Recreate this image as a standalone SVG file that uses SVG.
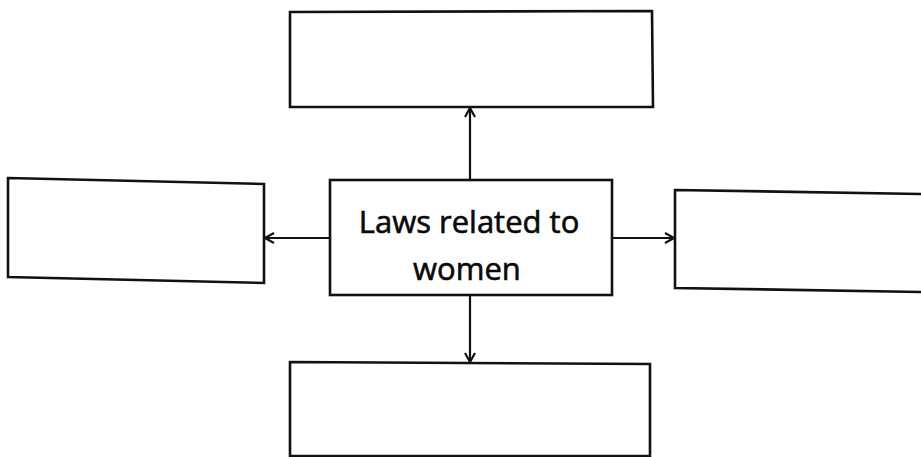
<svg xmlns="http://www.w3.org/2000/svg" width="921" height="457" viewBox="0 0 921 457">
  <style>
    .box { fill: #ffffff; stroke: #111111; stroke-width: 2.6; stroke-linejoin: miter; }
    .conn { stroke: #111111; stroke-width: 2.2; fill: none; marker-end: url(#arrow); }
    .label { font-family: "Open Sans", "Noto Sans", sans-serif; font-size: 31px; fill: #0a0a0a; stroke: #0a0a0a; stroke-width: 0.6; text-anchor: middle; }
  </style>
  <defs>
    <marker id="arrow" viewBox="0 0 14 14" refX="13" refY="7" markerWidth="14" markerHeight="14" markerUnits="userSpaceOnUse" orient="auto">
      <path d="M4,2 L13,7 L4,12" fill="none" stroke="#111111" stroke-width="2.2"/>
    </marker>
  </defs>
  <rect width="921" height="457" fill="#ffffff"/>
  <g id="node-top">
    <polygon class="box" points="290,12 652,11 653,107 290,107"/>
  </g>
  <g id="node-left">
    <polygon class="box" points="8,178 264,184 264,283 8,277"/>
  </g>
  <g id="node-right">
    <polygon class="box" points="675,190 925,194 925,292 675,288"/>
  </g>
  <g id="node-bottom">
    <polygon class="box" points="290,362 650,364 650,456 290,456"/>
  </g>
  <g id="node-center">
    <rect class="box" x="330" y="180" width="282" height="115"/>
    <text class="label" x="469" y="233">Laws related to</text>
    <text class="label" x="467" y="280">women</text>
  </g>
  <g id="connectors">
    <line class="conn" x1="470" y1="180" x2="470" y2="108"/>
    <line class="conn" x1="330" y1="238" x2="265" y2="238"/>
    <line class="conn" x1="612" y1="238" x2="674" y2="238"/>
    <line class="conn" x1="470" y1="295" x2="470" y2="362"/>
  </g>
</svg>
